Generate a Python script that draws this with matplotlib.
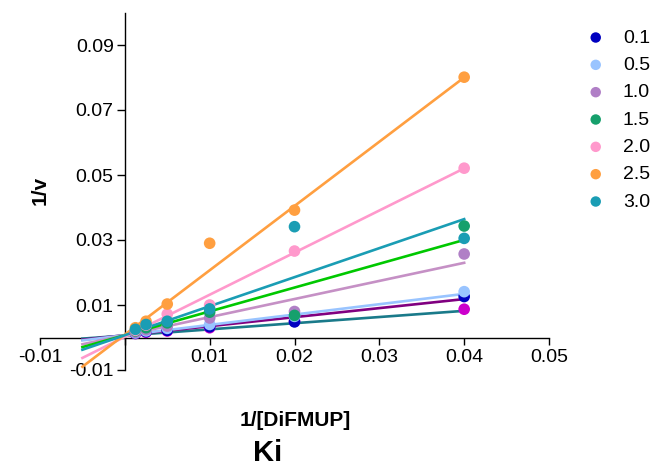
import numpy as np
import matplotlib
matplotlib.use("Agg")
from matplotlib import pyplot as plt

plt.rcParams['font.family'] = ['Liberation Sans', 'DejaVu Sans']

# 1/[DiFMUP] values
x_vals = [0.00125, 0.0025, 0.005, 0.01, 0.02, 0.04]

# inhibitor concentrations (legend) and measured 1/v
labels = ['0.1', '0.5', '1.0', '1.5', '2.0', '2.5', '3.0']
y_01 = [0.0013, 0.0018, 0.0022, 0.0033, 0.0048, 0.0126]
y_05 = [0.0014, 0.0020, 0.0028, 0.0040, 0.0065, 0.0141]
y_10 = [0.0016, 0.0024, 0.0035, 0.0060, 0.0080, 0.0257]
y_15 = [0.0020, 0.0030, 0.0045, 0.0078, 0.0068, 0.0343]
y_20 = [0.0022, 0.0038, 0.0072, 0.0100, 0.0266, 0.0521]
y_25 = [0.0030, 0.0050, 0.0103, 0.0290, 0.0392, 0.0801]
y_30 = [0.0025, 0.0040, 0.0050, 0.0088, 0.0341, 0.0305]
# extra series without legend entry
y_extra = [0.0012, 0.0016, 0.0020, 0.0030, 0.0050, 0.0087]

# fitted lines (slope, intercept)
slopes = [0.278, 0.318, 0.557, 0.733, 1.296, 1.978, 0.893]
intercepts = [0.0007, 0.0007, 0.0007, 0.0007, 0.0002, 0.0009, 0.0007]
slope_extra = 0.19
intercept_extra = 0.0006
fit_range = [-0.005, 0.04]

point_colors = ['#0000c0', '#99c4ff', '#b07fc6', '#16a06c', '#ff99cc', '#ff9f40', '#1a9db4']
line_colors = ['#800080', '#99c4ff', '#c590c5', '#00c800', '#ff99cc', '#ff9f40', '#1a9db4']
extra_point_color = '#cc00cc'
extra_line_color = '#1a7a8a'

fig = plt.figure(figsize=(6.61, 4.70), dpi=100)
ax = fig.add_axes([40 / 661, 1 - 370 / 470, 509 / 661, 357.5 / 470])

xs = np.array(fit_range)
series = [y_01, y_05, y_10, y_15, y_20, y_25, y_30]

# lines first, then points on top
ax.plot(xs, slope_extra * xs + intercept_extra, color=extra_line_color, lw=1.9, zorder=2)
for i in range(len(series)):
    ax.plot(xs, slopes[i] * xs + intercepts[i], color=line_colors[i], lw=1.9, zorder=2)

ax.scatter(x_vals, y_extra, color=extra_point_color, s=70, zorder=3, edgecolors='none')
handles = []
for i, ys in enumerate(series):
    h = ax.scatter(x_vals, ys, color=point_colors[i], s=70, zorder=3, edgecolors='none', label=labels[i])
    handles.append(h)

ax.set_xlim(-0.01, 0.05)
ax.set_ylim(-0.01, 0.1)

ax.spines['left'].set_position(('data', 0))
ax.spines['bottom'].set_position(('data', 0))
ax.spines['top'].set_visible(False)
ax.spines['right'].set_visible(False)
ax.spines['left'].set_bounds(-0.01, 0.1)
for s in ['left', 'bottom']:
    ax.spines[s].set_linewidth(1.0)
    ax.spines[s].set_zorder(1)

ax.set_xticks([-0.01, 0, 0.01, 0.02, 0.03, 0.04, 0.05])
ax.set_xticklabels(['-0.01', '', '0.01', '0.02', '0.03', '0.04', '0.05'])
ax.set_yticks([-0.01, 0.01, 0.03, 0.05, 0.07, 0.09])
ax.set_yticklabels(['-0.01', '0.01', '0.03', '0.05', '0.07', '0.09'])
ax.tick_params(axis='x', direction='out', length=5, width=1, pad=3, labelsize=14)
ax.tick_params(axis='y', direction='out', length=6, width=1, pad=2, labelsize=14)

fig.text(40 / 661, 1 - 190 / 470, '1/v', rotation=90, fontsize=15, fontweight='bold',
         ha='center', va='center')
fig.text(295 / 661, 1 - 420 / 470, '1/[DiFMUP]', fontsize=15, fontweight='bold',
         ha='center', va='center')
fig.text(268 / 661, 1 - 453 / 470, 'Ki', fontsize=21, fontweight='bold',
         ha='center', va='center')

leg = ax.legend(handles=handles, loc='upper left', bbox_to_anchor=(586 / 661, 1 - 29 / 470),
                bbox_transform=fig.transFigure, frameon=False, fontsize=14,
                handlelength=1.0, handletextpad=0.9, labelspacing=0.5,
                borderpad=0, borderaxespad=0, markerscale=0.9)

fig.savefig('out.png', dpi=100)
